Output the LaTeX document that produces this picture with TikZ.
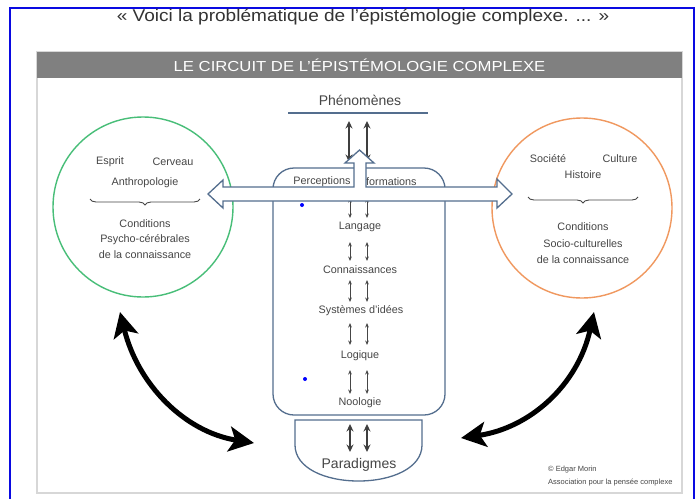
\documentclass[tikz,border=0pt]{standalone}
\usepackage{fontspec}
\setmainfont{Liberation Sans}
\usepackage{graphicx}
\usetikzlibrary{arrows.meta,decorations.pathreplacing}
\definecolor{frameblue}{RGB}{10,10,225}
\definecolor{barGray}{RGB}{128,128,128}
\definecolor{panelGray}{RGB}{215,215,215}
\definecolor{steel}{RGB}{84,110,142}
\definecolor{txt}{RGB}{70,70,70}
\definecolor{cgreen}{RGB}{72,190,120}
\definecolor{corange}{RGB}{240,152,95}
\begin{document}
\begin{tikzpicture}[x=1pt,y=-1pt,
  lbl/.style={font=\fontsize{10.8}{12}\selectfont, text=txt, inner sep=0pt},
  big/.style={font=\fontsize{14}{16}\selectfont, text=txt, inner sep=0pt},
  small/.style={font=\fontsize{7.5}{9}\selectfont, text=txt, inner sep=0pt, anchor=west},
  thinarr/.style={draw=txt, line width=0.8pt, {Stealth[length=4.5pt,width=3.6pt]}-{Stealth[length=4.5pt,width=3.6pt]}},
  thickarr/.style={draw=txt!90!black, line width=2.1pt, {Stealth[length=7.5pt,width=7pt]}-{Stealth[length=7.5pt,width=7pt]}},
  blackarr/.style={draw=black, line width=5pt, {Stealth[length=25pt,width=25pt,inset=6pt]}-{Stealth[length=25pt,width=25pt,inset=6pt]}},
  outl/.style={draw=steel, line width=1.3pt},
  bracestyle/.style={draw=txt, line width=0.9pt, decorate, decoration={brace, amplitude=6pt}}
]
\useasboundingbox (0,0) rectangle (698,498);
\fill[white] (0,0) rectangle (698,498);

% outer blue frame
\draw[frameblue, line width=2.5pt] (10,500) -- (10,8) -- (694,8) -- (694,500);

% quote
\node[inner sep=0pt, anchor=base, text=black!80] (quote) at (363,21)
  {\scalebox{1.12}[1]{\fontsize{17}{17}\selectfont « Voici la problématique de l’épistémologie complexe. ... »}};

% panel
\draw[panelGray, line width=1.8pt] (37,52) rectangle (682,493);
\fill[barGray] (37,52) rectangle (682,78);
\node[inner sep=0pt, text=white] (title) at (359.5,65.5)
  {\scalebox{1.15}[1]{\fontsize{14.5}{15}\selectfont LE CIRCUIT DE L’ÉPISTÉMOLOGIE COMPLEXE}};

% Phénomènes
\node[big] (phen) at (360,100) {Phénomènes};
\coordinate (phl) at (288,113);
\coordinate (phr) at (428,113);
\draw[outl] (phl) -- (phr);

% circles
\node[circle, draw=cgreen, line width=1.4pt, minimum size=180pt, inner sep=0pt] (lc) at (143,207) {};
\node[circle, draw=corange, line width=1.4pt, minimum size=180pt, inner sep=0pt] (rc) at (582,208) {};

% left circle texts
\node[lbl] (esprit) at (110,162) {Esprit};
\node[lbl] (cerveau) at (173,162) {Cerveau};
\node[lbl] (anthro) at (145,183) {Anthropologie};
\coordinate (lbr1) at (200,199);
\coordinate (lbr2) at (90,199);
\draw[bracestyle] (lbr1) -- (lbr2);
\node[lbl] (lcond) at (145,224) {Conditions};
\node[lbl] (lpsy) at (145,239.5) {Psycho-cérébrales};
\node[lbl] (lconn) at (145,255) {de la connaissance};

% right circle texts
\node[lbl] (societe) at (548,159) {Société};
\node[lbl] (culture) at (620,159) {Culture};
\node[lbl] (histoire) at (583,175) {Histoire};
\coordinate (rbr1) at (638,197);
\coordinate (rbr2) at (528,197);
\draw[bracestyle] (rbr1) -- (rbr2);
\node[lbl] (rcond) at (583,227) {Conditions};
\node[lbl] (rsoc) at (583,243.5) {Socio-culturelles};
\node[lbl] (rconn) at (583,260) {de la connaissance};

% central box
\draw[outl, rounded corners=21pt] (273,168) rectangle (445,415);
% Paradigmes shape
\draw[outl] (295,420) -- (295,445) .. controls (295,468) and (325,481) .. (358.5,481)
  .. controls (392,481) and (422,468) .. (422,445) -- (422,420) -- cycle;

% level labels
\node[lbl] (perc) at (322,182) {Perceptions};
\node[lbl, anchor=west] (info) at (357,182) {Informations};
\node[lbl] (lang) at (360,227) {Langage};
\node[lbl] (conn) at (360,270) {Connaissances};
\node[lbl] (sys) at (361,311) {Systèmes d’idées};
\node[lbl] (logi) at (360,356) {Logique};
\node[lbl] (noo) at (360,403) {Noologie};
\node[big] (para) at (359,465) {Paradigmes};

% thick arrows from phenomena
\coordinate (p1a) at (349,121); \coordinate (p1b) at (349,162);
\coordinate (p2a) at (367,121); \coordinate (p2b) at (367,162);
\draw[thickarr] (p1a) -- (p1b);
\draw[thickarr] (p2a) -- (p2b);

% thin arrows between levels
\coordinate (t0a) at (350,198); \coordinate (t0b) at (350,218);
\coordinate (u0a) at (367,198); \coordinate (u0b) at (367,218);
\draw[thinarr] (t0a) -- (t0b);
\draw[thinarr] (u0a) -- (u0b);
\coordinate (t1a) at (350,242); \coordinate (t1b) at (350,261);
\coordinate (u1a) at (367,242); \coordinate (u1b) at (367,261);
\draw[thinarr] (t1a) -- (t1b);
\draw[thinarr] (u1a) -- (u1b);
\coordinate (t2a) at (350,280); \coordinate (t2b) at (350,302);
\coordinate (u2a) at (367,280); \coordinate (u2b) at (367,302);
\draw[thinarr] (t2a) -- (t2b);
\draw[thinarr] (u2a) -- (u2b);
\coordinate (t3a) at (350,323); \coordinate (t3b) at (350,345);
\coordinate (u3a) at (367,323); \coordinate (u3b) at (367,345);
\draw[thinarr] (t3a) -- (t3b);
\draw[thinarr] (u3a) -- (u3b);
\coordinate (t4a) at (350,370); \coordinate (t4b) at (350,394);
\coordinate (u4a) at (367,370); \coordinate (u4b) at (367,394);
\draw[thinarr] (t4a) -- (t4b);
\draw[thinarr] (u4a) -- (u4b);

% thick arrows to Paradigmes
\coordinate (k1a) at (350,424); \coordinate (k1b) at (350,452);
\coordinate (k2a) at (367,424); \coordinate (k2b) at (367,452);
\draw[thickarr] (k1a) -- (k1b);
\draw[thickarr] (k2a) -- (k2b);

% T-shaped hollow arrow
\draw[outl, fill=white, line join=miter]
  (208,194) -- (223,180) -- (223,187) -- (354,187) -- (354,163) -- (345,163)
  -- (359.5,150) -- (374,163) -- (366,163) -- (366,187) -- (497,187)
  -- (497,179) -- (512,194) -- (497,208) -- (497,201) -- (223,201)
  -- (223,208) -- cycle;

% small blue dots
\fill[blue] (302,205) circle (2pt);
\fill[blue] (305,379) circle (2pt);

% black curved arrows
\coordinate (lt) at (120,312);
\coordinate (lb) at (254,443);
\draw[blackarr] (lt) .. controls (138,385) and (185,432) .. (lb);
\coordinate (rt) at (594,312);
\coordinate (rb) at (461,438);
\draw[blackarr] (rt) .. controls (578,385) and (530,428) .. (rb);

% credits
\node[small] (cred1) at (548,470) {© Edgar Morin};
\node[small] (cred2) at (548,483) {Association pour la pensée complexe};
\end{tikzpicture}
\end{document}
